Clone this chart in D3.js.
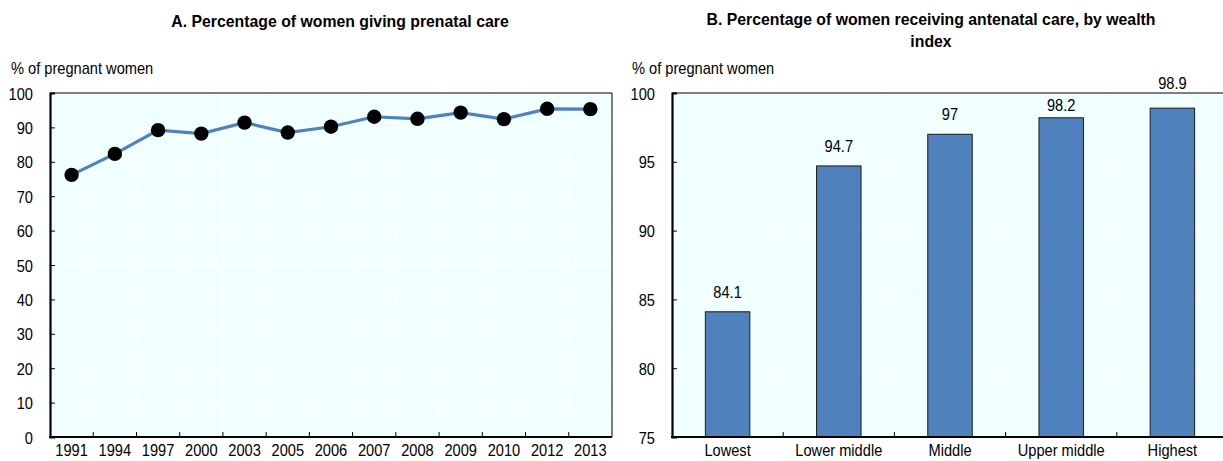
<!DOCTYPE html>
<html>
<head>
<meta charset="utf-8">
<script src="https://cdn.jsdelivr.net/npm/d3@7"></script>
<style>
  body { margin: 0; background: #fff; }
  svg text { font-family: "Liberation Sans Narrow", "Arial Narrow", "Liberation Sans", Arial, sans-serif; fill: #000; }
</style>
</head>
<body>
<div id="chart"></div>
<script>
// Panel A data
const years = ["1991", "1994", "1997", "2000", "2003", "2005", "2006", "2007", "2008", "2009", "2010", "2012", "2013"];
const prenatal = [76.2, 82.3, 89.2, 88.2, 91.4, 88.5, 90.2, 93.1, 92.5, 94.3, 92.4, 95.4, 95.3];
const ticksA = [0, 10, 20, 30, 40, 50, 60, 70, 80, 90, 100];

// Panel B data
const wealth = ["Lowest", "Lower middle", "Middle", "Upper middle", "Highest"];
const antenatal = [84.1, 94.7, 97, 98.2, 98.9];
const ticksB = [75, 80, 85, 90, 95, 100];

const W = 1223, H = 461;
const BG = "#f0ffff", BLUE = "#4f81bd";
const FS = 17;

const svg = d3.select("#chart").append("svg")
  .attr("width", W).attr("height", H);

// background + white grid for one panel, returns band boundary positions
function frame(g, x, y, ticks, x0, x1, y0, y1) {
  g.append("rect").attr("x", x0).attr("y", y0)
    .attr("width", x1 - x0).attr("height", y1 - y0)
    .attr("fill", BG);
  g.selectAll(".hg").data(ticks).enter().append("line")
    .attr("x1", x0).attr("x2", x1)
    .attr("y1", d => y(d)).attr("y2", d => y(d))
    .attr("stroke", "#fff").attr("stroke-width", 1.5);
  const bounds = x.domain().slice(1).map(d => x(d));
  g.selectAll(".vg").data(bounds).enter().append("line")
    .attr("x1", d => d).attr("x2", d => d)
    .attr("y1", y0).attr("y2", y1)
    .attr("stroke", "#fff").attr("stroke-width", 1.5);
  return bounds;
}

function axes(g, x, y, ticks, bounds, x0, x1, y0, y1) {
  // top and right border
  g.append("line").attr("x1", x0).attr("x2", x1).attr("y1", y0).attr("y2", y0)
    .attr("stroke", "#000").attr("stroke-width", 1);
  g.append("line").attr("x1", x1).attr("x2", x1).attr("y1", y0).attr("y2", y1)
    .attr("stroke", "#000").attr("stroke-width", 1);

  const ya = g.append("g").attr("transform", `translate(${x0},0)`)
    .call(d3.axisLeft(y).tickValues(ticks).tickSize(-5).tickPadding(17).tickFormat(d3.format("d")));
  ya.select(".domain").attr("stroke", "#000").attr("stroke-width", 2.2);
  ya.selectAll(".tick line").attr("stroke", "#000");
  ya.selectAll("text").attr("font-size", FS).attr("dy", "0.36em");

  // x axis: ticks on band boundaries, labels at band centres
  g.append("line").attr("x1", x0 - 1).attr("x2", x1).attr("y1", y1).attr("y2", y1)
    .attr("stroke", "#000").attr("stroke-width", 2.2);
  g.selectAll(".xt").data(bounds).enter().append("line")
    .attr("x1", d => d).attr("x2", d => d)
    .attr("y1", y1).attr("y2", y1 - 5)
    .attr("stroke", "#000");
  g.selectAll(".xl").data(x.domain()).enter().append("text")
    .attr("x", d => x(d) + x.bandwidth() / 2)
    .attr("y", y1 + 19)
    .attr("text-anchor", "middle")
    .attr("font-size", FS)
    .text(d => d);
}

// ---------- Panel A ----------
{
  const x0 = 50, x1 = 612, y0 = 93, y1 = 437;
  const g = svg.append("g");
  const x = d3.scaleBand().domain(years).range([x0, x1]);
  const y = d3.scaleLinear().domain([0, 100]).range([y1, y0]);
  const bounds = frame(g, x, y, ticksA, x0, x1, y0, y1);
  axes(g, x, y, ticksA, bounds, x0, x1, y0, y1);

  const cx = (d, i) => x(years[i]) + x.bandwidth() / 2;
  const line = d3.line().x(cx).y(d => y(d));
  g.append("path").datum(prenatal)
    .attr("d", line).attr("fill", "none")
    .attr("stroke", BLUE).attr("stroke-width", 3.2);
  g.selectAll(".dot").data(prenatal).enter().append("circle")
    .attr("cx", cx).attr("cy", d => y(d)).attr("r", 7.2)
    .attr("fill", "#000");

  g.append("text").attr("x", 11).attr("y", 74).attr("font-size", FS)
    .text("% of pregnant women");
  g.append("text").attr("x", 340).attr("y", 27).attr("text-anchor", "middle")
    .attr("font-size", FS).attr("font-weight", "bold")
    .text("A. Percentage of women giving prenatal care");
}

// ---------- Panel B ----------
{
  const x0 = 672, x1 = 1228, y0 = 93, y1 = 437;
  const g = svg.append("g");
  const x = d3.scaleBand().domain(wealth).range([x0, x1]);
  const y = d3.scaleLinear().domain([75, 100]).range([y1, y0]);
  const bounds = frame(g, x, y, ticksB, x0, x1, y0, y1);

  const bw = x.bandwidth() * 0.4;
  g.selectAll(".bar").data(antenatal).enter().append("rect")
    .attr("x", (d, i) => x(wealth[i]) + (x.bandwidth() - bw) / 2)
    .attr("y", d => y(d))
    .attr("width", bw)
    .attr("height", d => y1 - y(d))
    .attr("fill", BLUE).attr("stroke", "#1a1a1a").attr("stroke-width", 1);

  axes(g, x, y, ticksB, bounds, x0, x1, y0, y1);

  // value labels; moved off the top border when they would cross it
  g.selectAll(".val").data(antenatal).enter().append("text")
    .attr("x", (d, i) => x(wealth[i]) + x.bandwidth() / 2)
    .attr("y", d => {
      const top = y(d);
      let b = top - 14;
      if (b - 12 < y0) b = (top - y0 > 18) ? y0 + 18 : y0 - 4;
      return b;
    })
    .attr("text-anchor", "middle").attr("font-size", FS)
    .text(d => d);

  g.append("text").attr("x", 632).attr("y", 74).attr("font-size", FS)
    .text("% of pregnant women");
  const t = g.append("text").attr("text-anchor", "middle")
    .attr("font-size", FS).attr("font-weight", "bold");
  t.append("tspan").attr("x", 931).attr("y", 25)
    .text("B. Percentage of women receiving antenatal care, by wealth");
  t.append("tspan").attr("x", 931).attr("y", 47).text("index");
}

// the source uses a narrow face; squeeze the glyphs horizontally to match
svg.selectAll("text, tspan").each(function () {
  if (this.tagName === "text" && this.querySelector("tspan")) return;
  const bold = (this.closest("text").getAttribute("font-weight") === "bold");
  const len = this.getComputedTextLength();
  d3.select(this).attr("textLength", len * (bold ? 0.93 : 0.86))
    .attr("lengthAdjust", "spacingAndGlyphs");
});
</script>
</body>
</html>
